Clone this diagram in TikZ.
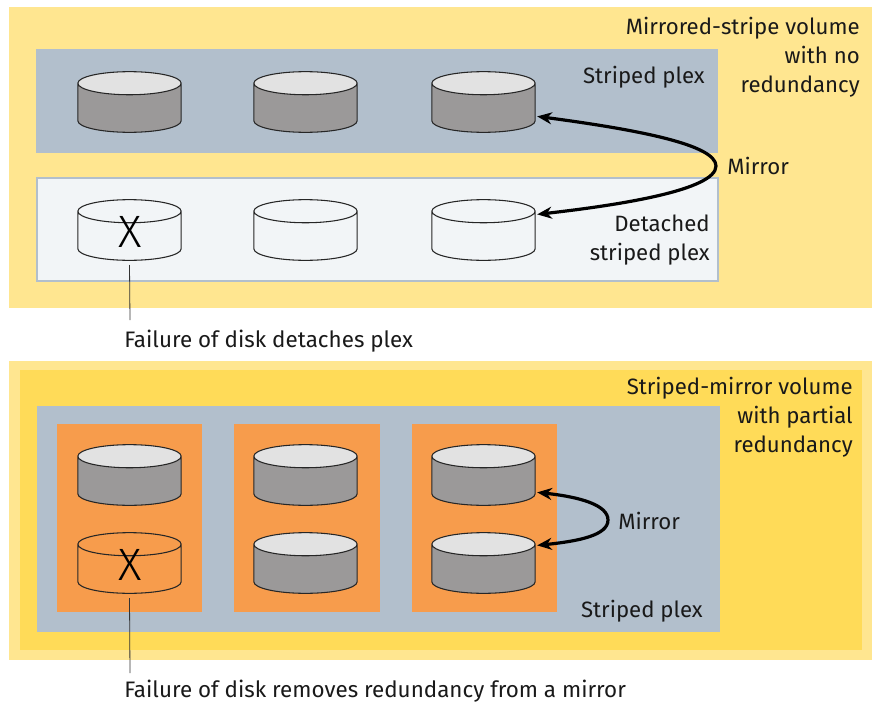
\documentclass[tikz,border=0pt]{standalone}
\usepackage{fontspec}
\setmainfont{Fira Sans}
\newfontfamily\markfont{Fira Sans Light}
\usetikzlibrary{positioning}
\usetikzlibrary{shapes.geometric}
\usetikzlibrary{arrows.meta}
\definecolor{paleyellow}{HTML}{FFE690}
\definecolor{deepyellow}{HTML}{FFDB58}
\definecolor{plexblue}{HTML}{B2BFCC}
\definecolor{plexorange}{HTML}{F79C4C}
\definecolor{detachedfill}{HTML}{F2F5F7}
\definecolor{diskbody}{HTML}{9B9999}
\definecolor{disktop}{HTML}{E2E2E2}
\tikzset{
	disk/.style={cylinder, anchor=shape center, shape border rotate=90, aspect=2.6, draw=black!85, line width=0.8pt, inner sep=3.33pt, outer sep=0pt, minimum width=77.5pt, minimum height=45.5pt},
	fulldisk/.style={disk, cylinder uses custom fill, cylinder body fill=diskbody, cylinder end fill=disktop},
	textlabel/.style={inner sep=0pt, align=right, font=\fontsize{16.65}{21.75}\selectfont, text=black!90},
	failtext/.style={textlabel, anchor=west, font=\fontsize{16.8}{21.75}\selectfont},
	failmark/.style={inner sep=0pt, font=\markfont\fontsize{34}{34}\selectfont},
	mirrorline/.style={black, line width=2.4pt, {Stealth[length=11pt,width=9pt]}-{Stealth[length=11pt,width=9pt]}},
	leader/.style={black!80, line width=0.6pt}
}
\begin{document}
\begin{tikzpicture}[x=0.75pt, y=-0.75pt]
	\useasboundingbox (0,0) rectangle (872,703);
	% upper volume
	\fill[paleyellow] (9,7) rectangle (872,308);
	\fill[plexblue] (36,49) rectangle (718,153);
	\filldraw[fill=detachedfill, draw=plexblue, line width=1.5pt] (37,178) rectangle (718,281);
	\node[fulldisk] (topa) at (129.5,102) {};
	\node[fulldisk] (topb) at (305.5,102) {};
	\node[fulldisk] (topc) at (483.5,102) {};
	\node[disk] (deta) at (129.5,230) {};
	\node[disk] (detb) at (305.5,230) {};
	\node[disk] (detc) at (483.5,230) {};
	\node[failmark] (xa) at (130,232) {X};
	\node[textlabel, anchor=east] (volumea) at (860,57) {Mirrored-stripe volume\\with no\\redundancy};
	\node[textlabel, anchor=east] (plexa) at (705,77) {Striped plex};
	\node[textlabel, anchor=east] (plexb) at (710,240) {Detached\\striped plex};
	\node[textlabel, anchor=west] (mirrora) at (727,166) {Mirror};
	\node[failtext] (faila) at (124,341) {Failure of disk detaches plex};
	\draw[mirrorline] ([shift={(2,6)}]topc.east) .. controls (640,130) and (716,145) .. (716,166) .. controls (716,190) and (620,205) .. ([shift={(2,-24)}]detc.east);
	\coordinate (failaend) at (130,320);
	\draw[leader] ([yshift=-3.5pt]deta.south) -- (failaend);
	% lower volume
	\fill[paleyellow] (9,361) rectangle (872,660);
	\fill[deepyellow] (20,370) rectangle (862,650);
	\fill[plexblue] (37,406) rectangle (720,632);
	\fill[plexorange] (57,424) rectangle (202,612);
	\fill[plexorange] (234,424) rectangle (380,612);
	\fill[plexorange] (412,424) rectangle (557,612);
	\node[fulldisk] (upa) at (129.5,475) {};
	\node[fulldisk] (upb) at (305.5,475) {};
	\node[fulldisk] (upc) at (483.5,475) {};
	\node[disk] (lowa) at (129.5,563) {};
	\node[fulldisk] (lowb) at (305.5,563) {};
	\node[fulldisk] (lowc) at (483.5,563) {};
	\node[failmark] (xb) at (130,565) {X};
	\node[textlabel, anchor=east] (volumeb) at (853,417) {Striped-mirror volume\\with partial\\redundancy};
	\node[textlabel, anchor=east] (plexc) at (703,611) {Striped plex};
	\node[textlabel, anchor=west] (mirrorb) at (618,521) {Mirror};
	\node[failtext] (failb) at (124,691) {Failure of disk removes redundancy from a mirror};
	\draw[mirrorline] ([shift={(2,9)}]upc.east) .. controls (580,497) and (608,505) .. (608,520) .. controls (608,535) and (580,541) .. ([shift={(2,-26)}]lowc.east);
	\coordinate (failbend) at (130,673);
	\draw[leader] ([yshift=-3.5pt]lowa.south) -- (failbend);
\end{tikzpicture}
\end{document}
